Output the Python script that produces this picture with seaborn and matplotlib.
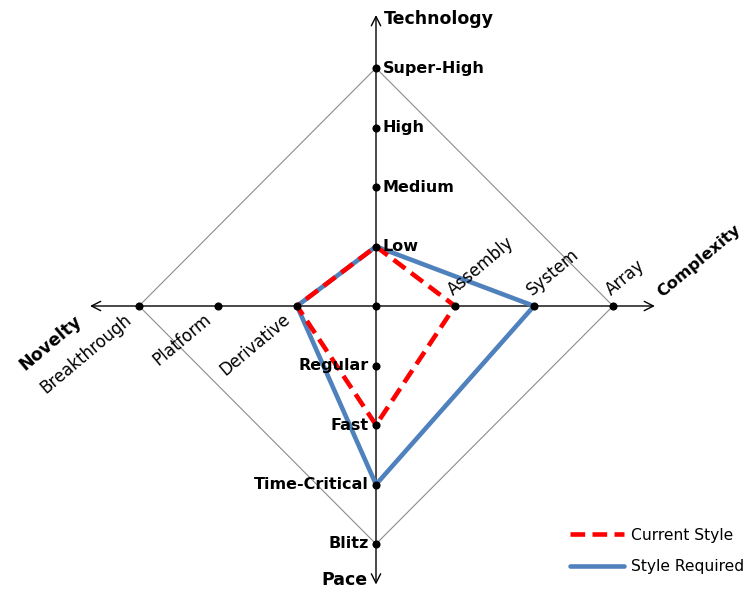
import matplotlib
matplotlib.use("Agg")
import matplotlib.pyplot as plt
import seaborn as sns
import pandas as pd

# ---- data ----
technology_levels = ["Low", "Medium", "High", "Super-High"]
complexity_levels = ["Assembly", "System", "Array"]
pace_levels = ["Regular", "Fast", "Time-Critical", "Blitz"]
novelty_levels = ["Derivative", "Platform", "Breakthrough"]

series_names = ["Current Style", "Style Required"]
current_style = {"Technology": "Low", "Complexity": "Assembly", "Pace": "Fast", "Novelty": "Derivative"}
style_required = {"Technology": "Low", "Complexity": "System", "Pace": "Time-Critical", "Novelty": "Derivative"}

sns.set_theme(style="white")
plt.rcParams['font.family'] = ['DejaVu Sans']
plt.rcParams['text.color'] = 'black'

W, H, DPI = 748, 589, 100
fig = plt.figure(figsize=(W / DPI, H / DPI), dpi=DPI)
ax = fig.add_axes([0, 0, 1, 1])

# pixel geometry of the reference (only for limits)
cx, cy, ux, uy = 376, 306, 79, 59.5
fx = lambda px: (px - cx) / ux
fy = lambda py: (cy - py) / uy
ax.set_xlim(fx(0), fx(W))
ax.set_ylim(fy(H), fy(0))
ax.axis("off")

def coord(axis, level):
    if axis == "Technology":
        return 0, technology_levels.index(level) + 1
    if axis == "Complexity":
        return complexity_levels.index(level) + 1, 0
    if axis == "Pace":
        return 0, -(pace_levels.index(level) + 1)
    return -(novelty_levels.index(level) + 1), 0

order = ["Technology", "Complexity", "Pace", "Novelty", "Technology"]
rows = []
for name, d in zip(series_names, [current_style, style_required]):
    for i, a in enumerate(order):
        x, y = coord(a, d[a])
        rows.append({"series": name, "i": i, "x": x, "y": y})
df = pd.DataFrame(rows)

# axes with arrows
nT, nC, nP, nN = len(technology_levels), len(complexity_levels), len(pace_levels), len(novelty_levels)
astyle = "<->,head_length=0.55,head_width=0.28"
ax.annotate("", xy=(nC + 0.53, 0), xytext=(-nN - 0.62, 0),
            arrowprops=dict(arrowstyle=astyle, color="black", lw=1, shrinkA=0, shrinkB=0), zorder=1)
ax.annotate("", xy=(0, nT + 0.89), xytext=(0, -nP - 0.68),
            arrowprops=dict(arrowstyle=astyle, color="black", lw=1, shrinkA=0, shrinkB=0), zorder=1)

# outer diamond
dx = [0, nC, 0, -nN, 0]
dy = [nT, 0, -nP, 0, nT]
ax.plot(dx, dy, color="#8c8c8c", lw=0.8, zorder=1)

# series polygons
palette = {"Current Style": "#ff0000", "Style Required": "#4f81bd"}
sns.lineplot(data=df[df.series == "Style Required"], x="x", y="y", sort=False, estimator=None,
             color=palette["Style Required"], lw=3.3, ax=ax, zorder=2, label="Style Required")
sns.lineplot(data=df[df.series == "Current Style"], x="x", y="y", sort=False, estimator=None,
             color=palette["Current Style"], lw=3.3, ax=ax, zorder=3, label="Current Style")
for ln in ax.lines:
    if ln.get_label() == "Current Style":
        ln.set_dashes([3.2, 1.6])
        ln.set_dash_capstyle("butt")

# dots
px = [0] + [0] * nT + list(range(1, nC + 1)) + [0] * nP + [-(i + 1) for i in range(nN)]
py = [0] + [i + 1 for i in range(nT)] + [0] * nC + [-(i + 1) for i in range(nP)] + [0] * nN
ax.scatter(px, py, s=34, color="black", zorder=5, linewidths=0)

# labels
bfs = 11.5
rfs = 12
for i, lab in enumerate(technology_levels):
    ax.annotate(lab, (0, i + 1), xytext=(5, 0), textcoords="offset points",
                ha="left", va="center", fontsize=bfs, fontweight="bold")
for i, lab in enumerate(pace_levels):
    ax.annotate(lab, (0, -(i + 1)), xytext=(-5, 0), textcoords="offset points",
                ha="right", va="center", fontsize=bfs, fontweight="bold")
for i, lab in enumerate(complexity_levels):
    ax.annotate(lab, (i + 1, 0), xytext=(-1, 7), textcoords="offset points",
                ha="left", va="baseline", rotation=40, rotation_mode="anchor", fontsize=rfs)
for i, lab in enumerate(novelty_levels):
    ax.annotate(lab, (-(i + 1), 0), xytext=(-11, -3), textcoords="offset points",
                ha="right", va="top", rotation=40, rotation_mode="anchor", fontsize=rfs)

tfs = 12.5
ax.annotate("Technology", (0, fy(19)), xytext=(6, 0), textcoords="offset points",
            ha="left", va="center", fontsize=tfs, fontweight="bold")
ax.annotate("Pace", (0, fy(580)), xytext=(-6, 0), textcoords="offset points",
            ha="right", va="center", fontsize=tfs, fontweight="bold")
ax.annotate("Complexity", (fx(662), 0), xytext=(0, 6), textcoords="offset points",
            ha="left", va="baseline", rotation=40, rotation_mode="anchor",
            fontsize=11.8, fontweight="bold")
ax.annotate("Novelty", (fx(90), 0), xytext=(-12, -4), textcoords="offset points",
            ha="right", va="top", rotation=40, rotation_mode="anchor",
            fontsize=tfs, fontweight="bold")

# legend
handles, labels = ax.get_legend_handles_labels()
hmap = dict(zip(labels, handles))
leg = ax.legend([hmap[n] for n in series_names], series_names, loc="lower right",
                bbox_to_anchor=(1.014, 0.0015), frameon=False, fontsize=11.2,
                handlelength=3.5, handletextpad=0.45, labelspacing=1.05)
for h in leg.get_lines():
    if h.get_color() == palette["Current Style"]:
        h.set_dashes([3.2, 1.6])

fig.savefig("out.png", dpi=DPI)
